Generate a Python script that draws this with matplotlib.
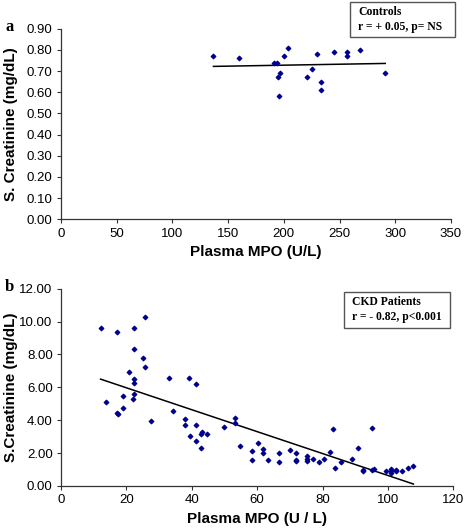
import numpy as np
import matplotlib
matplotlib.use("Agg")
import matplotlib.pyplot as plt
from matplotlib.patches import Rectangle

# --- data ---
ctrl_mpo = [136.8, 159.3, 191.3, 193.7, 200.3, 203.9, 196.7, 194.3, 195.2,
            220.7, 225.7, 229.3, 232.9, 232.9, 244.6, 256.9, 256.9, 268.6, 291.0]
ctrl_creat = [0.77, 0.76, 0.74, 0.74, 0.77, 0.81, 0.69, 0.67, 0.58,
              0.67, 0.71, 0.78, 0.65, 0.61, 0.79, 0.79, 0.77, 0.80, 0.69]
# regression line as printed (end points)
ctrl_fit_x = [136.8, 291.0]
ctrl_fit_y = [0.722, 0.736]

ckd_mpo = [12.1, 13.8, 17.2, 17.2, 17.3, 19.0, 19.0, 20.7, 22.2, 22.4, 22.4, 22.4,
           22.4, 22.1, 25.1, 25.7, 25.7, 27.5, 33.1, 34.4, 37.8, 37.8, 39.3, 39.4,
           41.2, 41.2, 41.2, 42.8, 43.2, 42.8, 44.7, 49.8, 53.2, 53.2, 54.9, 58.4,
           58.4, 60.2, 61.8, 61.8, 63.4, 66.8, 66.8, 70.2, 72.0, 72.0, 72.0, 75.3,
           75.3, 75.3, 77.1, 78.9, 80.4, 82.2, 83.1, 83.9, 85.6, 89.1, 90.7, 92.5,
           92.5, 95.1, 95.1, 95.7, 99.4, 100.9, 100.9, 100.9, 102.6, 102.6, 104.2,
           106.0, 107.8]
ckd_creat = [9.59, 5.13, 9.39, 4.42, 4.36, 5.45, 4.74, 6.95, 9.59, 8.33, 6.49, 6.24,
             5.59, 5.27, 7.78, 10.28, 7.26, 3.95, 6.59, 4.54, 4.05, 3.73, 6.55, 3.06,
             3.73, 6.22, 2.72, 3.18, 3.26, 2.31, 3.16, 3.57, 4.14, 3.83, 2.43, 2.13,
             1.58, 2.64, 2.27, 2.03, 1.60, 2.03, 1.46, 2.21, 2.03, 1.60, 1.52, 1.82,
             1.64, 1.52, 1.64, 1.48, 1.64, 2.05, 3.45, 1.11, 1.46, 1.62, 2.31, 0.97,
             0.89, 3.55, 0.97, 1.03, 0.89, 1.01, 0.89, 0.77, 0.97, 0.89, 0.89,
             1.09, 1.24]
ckd_fit_x = [12.1, 107.8]
ckd_fit_y = [6.50, 0.12]

W, H = 466, 532
sans = "Liberation Sans"
serif = "Liberation Serif"
dot_color = "#00008f"

fig = plt.figure(figsize=(W / 100, H / 100), dpi=100)


def px_axes(left, top, right, bottom):
    return fig.add_axes([left / W, 1 - bottom / H, (right - left) / W, (bottom - top) / H])


def style(ax):
    for s in ["top", "right"]:
        ax.spines[s].set_visible(False)
    for s in ["left", "bottom"]:
        ax.spines[s].set_color("#333333")
        ax.spines[s].set_linewidth(0.9)
    ax.tick_params(direction="out", length=3, width=0.8, color="#333333",
                   labelsize=9.5, pad=3)
    for lab in ax.get_xticklabels() + ax.get_yticklabels():
        lab.set_fontfamily(sans)


def legend_box(x0, y0, x1, y1, lines):
    fig.patches.append(Rectangle((x0 / W, 1 - y1 / H), (x1 - x0) / W, (y1 - y0) / H,
                                 transform=fig.transFigure, fill=False,
                                 edgecolor="#555555", linewidth=1.0))
    fig.text((x0 + 8) / W, 1 - (y0 + 4) / H, "\n".join(lines), ha="left", va="top",
             fontfamily=serif, fontweight="bold", fontsize=8.4, linespacing=1.3)


# ---- panel a: controls ----
ax1 = px_axes(61, 28.7, 451, 219.3)
ax1.scatter(ctrl_mpo, ctrl_creat, marker="D", s=5, color=dot_color, zorder=3)
ax1.plot(ctrl_fit_x, ctrl_fit_y, color="black", linewidth=1.1)
ax1.set_xlim(0, 350)
ax1.set_ylim(0, 0.9)
ax1.set_xticks(np.arange(0, 351, 50))
ax1.set_yticks(np.arange(0, 0.91, 0.1))
ax1.set_yticklabels([f"{v:.2f}" for v in np.arange(0, 0.91, 0.1)])
style(ax1)
ax1.set_xlabel("Plasma MPO (U/L)", fontfamily=sans, fontweight="bold", fontsize=11)
ax1.set_ylabel("S. Creatinine (mg/dL)", fontfamily=sans, fontweight="bold", fontsize=11)
ax1.xaxis.set_label_coords(0.5, -0.135)
ax1.yaxis.set_label_coords(-0.11, 0.5)
legend_box(350, 2, 455, 37, ["Controls", "r = + 0.05, p= NS"])
fig.text(5 / W, 1 - 27 / H, "a", fontfamily=serif, fontweight="bold", fontsize=12,
         ha="left", va="center")

# ---- panel b: CKD patients ----
ax2 = px_axes(61, 288.7, 453.3, 486)
ax2.scatter(ckd_mpo, ckd_creat, marker="D", s=5, color=dot_color, zorder=3)
ax2.plot(ckd_fit_x, ckd_fit_y, color="black", linewidth=1.1)
ax2.set_xlim(0, 120)
ax2.set_ylim(0, 12)
ax2.set_xticks(np.arange(0, 121, 20))
ax2.set_yticks(np.arange(0, 12.1, 2))
ax2.set_yticklabels([f"{v:.2f}" for v in np.arange(0, 12.1, 2)])
style(ax2)
ax2.set_xlabel("Plasma MPO (U / L)", fontfamily=sans, fontweight="bold", fontsize=11)
ax2.set_ylabel("S.Creatinine (mg/dL)", fontfamily=sans, fontweight="bold", fontsize=11)
ax2.xaxis.set_label_coords(0.5, -0.13)
ax2.yaxis.set_label_coords(-0.11, 0.5)
legend_box(344, 292, 450, 328, ["CKD Patients", "r = - 0.82, p<0.001"])
fig.text(5 / W, 1 - 287 / H, "b", fontfamily=serif, fontweight="bold", fontsize=12,
         ha="left", va="center")

fig.savefig("out.png", dpi=100)
